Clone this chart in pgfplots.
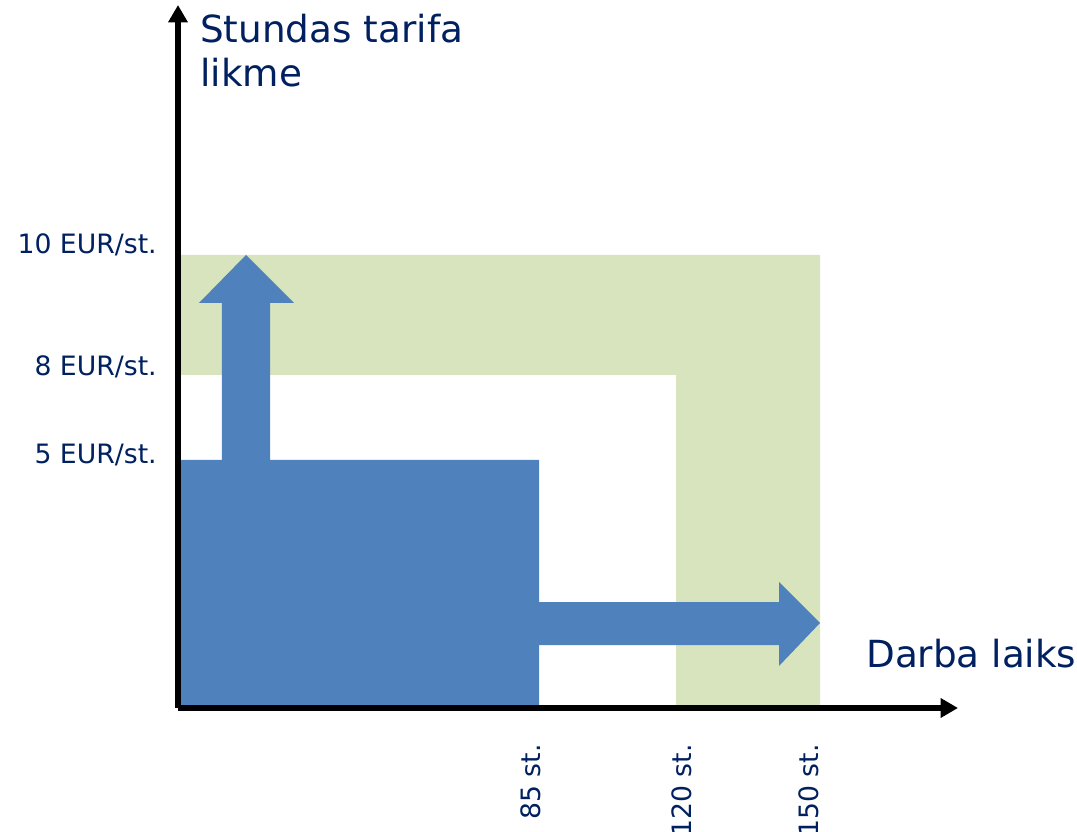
\documentclass[border=0pt]{standalone}
\usepackage{fontspec}
\setmainfont{DejaVu Sans}
\usepackage{pgfplots}
\pgfplotsset{compat=1.18}
\usetikzlibrary{arrows.meta}
\definecolor{cblue}{RGB}{79,129,189}
\definecolor{cgreen}{RGB}{215,228,189}
\definecolor{ctext}{RGB}{0,32,96}
\begin{document}
\begin{tikzpicture}
\begin{axis}[
  at={(0,0)}, anchor=south west,
  scale only axis, width=585pt, height=527.25pt,
  xmin=0, xmax=780, ymin=0, ymax=703,
  clip=false, axis on top,
  axis lines*=left,
  axis line style={line width=4.3pt, black, -{Triangle[length=13pt,width=14pt]}},
  major tick length=0pt,
  xtick={362,513,640}, xticklabels={85 st.,120 st.,150 st.},
  ytick={244,332,454}, yticklabels={5 EUR/st.,8 EUR/st.,10 EUR/st.},
  ticklabel style={font=\fontsize{20}{24}\selectfont, text=ctext, inner sep=0pt},
  xticklabel style={yshift=-27pt, rotate=90, anchor=base east},
  yticklabel style={xshift=-15.75pt, anchor=base east},
]
% green L-shaped region
\addplot[fill=cgreen, draw=none] coordinates {(0,333) (0,453) (642,453) (642,0) (498,0) (498,333) (0,333)};
% blue block
\addplot[fill=cblue, draw=none] coordinates {(0,0) (0,248) (361,248) (361,0) (0,0)};
% up arrow
\addplot[fill=cblue, draw=none] coordinates {(44,247) (44,405) (21,405) (68,453) (116,405) (92,405) (92,247) (44,247)};
% right arrow
\addplot[fill=cblue, draw=none] coordinates {(360,63) (601,63) (601,42) (642,85) (601,126) (601,106) (360,106) (360,63)};
\node[anchor=base west, text=ctext, font=\fontsize{28}{33}\selectfont, inner sep=0pt] at (axis cs:22,665) {Stundas tarifa};
\node[anchor=base west, text=ctext, font=\fontsize{28}{33}\selectfont, inner sep=0pt] at (axis cs:22,621) {likme};
\node[anchor=base west, text=ctext, font=\fontsize{28}{33}\selectfont, inner sep=0pt] at (axis cs:688,41) {Darba laiks};
\coordinate (bl) at (axis cs:-178,-123);
\coordinate (tr) at (axis cs:899,708);
\end{axis}
\pgfresetboundingbox
\path[use as bounding box] (bl) rectangle (tr);
\end{tikzpicture}
\end{document}
